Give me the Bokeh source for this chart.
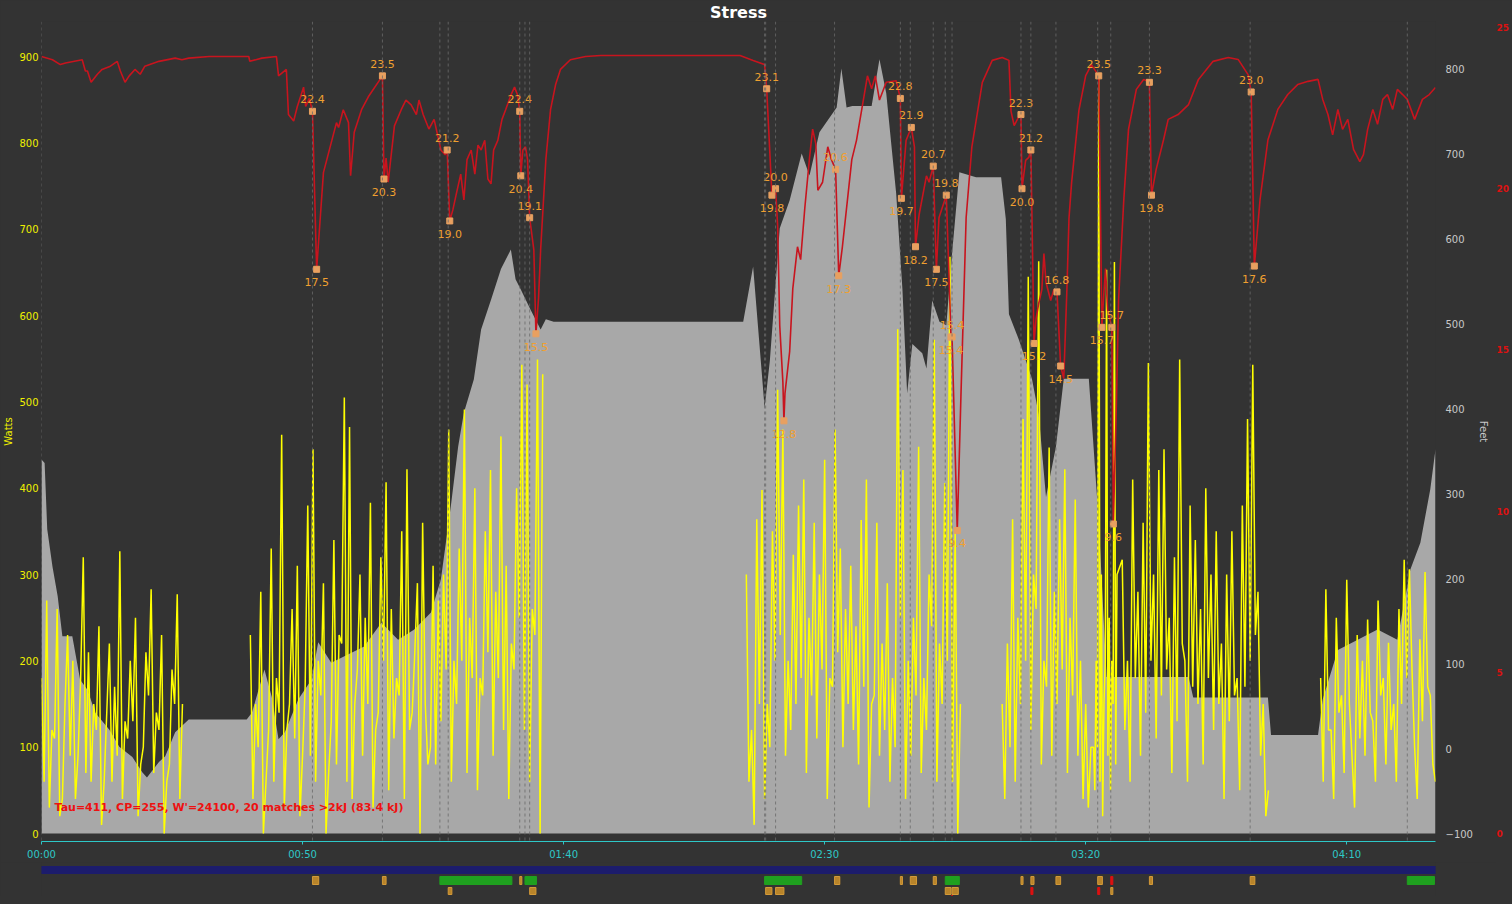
import math
from bokeh.plotting import figure
from bokeh.models import Range1d, LinearAxis, FixedTicker, Label, Span
from bokeh.layouts import column
from bokeh.embed import file_html
from bokeh.resources import INLINE
from bokeh.core.properties import value

# ------------------------------------------------------------------ data
x_ticks_min = [0, 50, 100, 150, 200, 250]
x_tick_labels = ["00:00", "00:50", "01:40", "02:30", "03:20", "04:10"]
watts_ticks = [0, 100, 200, 300, 400, 500, 600, 700, 800, 900]
feet_ticks = [-100, 0, 100, 200, 300, 400, 500, 600, 700, 800]
kj_ticks = [0, 5, 10, 15, 20, 25]
ride_minutes = 267.0

# altitude profile (minutes, feet)
altitude_points = [
    (0, 340), (0.6, 336), (1.1, 258), (2.1, 214), (3.1, 179), (4.0, 132), (5.9, 132), (7.4, 81),
    (8.8, 69), (10.3, 42), (13.0, 22), (14.9, 2), (17.4, -10), (19.3, -28), (20.2, -34), (22.5, -16),
    (23.7, -9), (25.6, 19), (28.2, 34), (39.3, 34), (40.3, 42), (42.7, 93), (44.1, 61), (45.4, 11),
    (46.6, 19), (49.2, 58), (51.7, 81), (53.0, 125), (55.5, 101), (61.8, 120), (65.1, 148), (68.3, 128),
    (71.4, 140), (74.6, 160), (76.5, 199), (78.4, 285), (79.8, 355), (80.9, 395), (82.8, 434), (84.2, 493),
    (86.1, 528), (88.0, 564), (88.9, 575), (89.9, 587), (90.8, 552), (91.8, 540), (93.7, 516), (95.6, 493),
    (96.6, 505), (98.1, 502), (134.4, 502), (136.3, 567), (138.5, 401), (139.5, 456), (141.4, 612), (143.3, 645),
    (145.6, 700), (147.1, 674), (149.0, 725), (152.3, 754), (153.2, 800), (154.2, 754), (155.3, 756), (159.0, 756),
    (160.5, 811), (161.8, 771), (163.7, 653), (164.9, 540), (165.8, 418), (166.8, 476), (168.7, 465), (169.5, 447),
    (170.6, 527), (172.0, 502), (173.3, 498), (174.4, 582), (175.8, 678), (179.0, 672), (183.8, 672), (184.7, 623),
    (185.3, 511), (187.2, 481), (189.7, 435), (191.0, 393), (192.4, 296), (194.3, 355), (195.8, 435), (200.6, 435),
    (202.5, 267), (204.0, 84), (219.7, 84), (220.6, 60), (234.9, 60), (235.5, 16), (244.5, 16), (245.4, 58),
    (248.3, 116), (252.1, 128), (255.9, 140), (259.7, 128), (262.2, 211), (264.1, 242), (266.0, 305), (267.0, 352),
]

# W' balance (minutes, kJ)
wbal_points = [
    (0, 24.1), (2.1, 24.0), (3.6, 23.85), (4.6, 23.9), (7.8, 24.0), (8.4, 23.65), (8.8, 23.65), (9.5, 23.3),
    (10.7, 23.55), (11.6, 23.7), (13.2, 23.8), (14.5, 23.95), (15.1, 23.65), (16.0, 23.3), (16.8, 23.5),
    (17.9, 23.7), (18.9, 23.55), (19.8, 23.8), (22.5, 23.95), (25.6, 24.05), (26.9, 24.0), (28.2, 24.05),
    (32.1, 24.1), (39.7, 24.1), (39.9, 23.95), (42.2, 24.05), (45.0, 24.1), (45.4, 23.5), (46.9, 23.7),
    (47.3, 22.3), (48.3, 22.1), (49.0, 22.55), (50.2, 23.15), (50.6, 22.55), (51.3, 22.8), (51.9, 22.4),
    (52.7, 17.5), (54.0, 20.5), (56.5, 22.05), (56.9, 21.9), (57.8, 22.45), (58.8, 22.05), (59.2, 20.4),
    (59.9, 21.75), (61.3, 22.45), (62.6, 22.85), (65.3, 23.5), (65.6, 20.3), (66.0, 20.95), (66.4, 20.2),
    (67.6, 21.95), (68.9, 22.45), (69.8, 22.75), (70.8, 22.6), (71.8, 22.3), (72.3, 22.75), (73.1, 22.3),
    (74.2, 21.85), (75.2, 22.15), (76.5, 21.2), (77.3, 21.05), (77.7, 21.2), (78.2, 19.0), (78.8, 19.35),
    (79.4, 19.8), (80.3, 20.45), (80.9, 19.65), (81.5, 20.9), (82.3, 21.2), (83.0, 20.45), (83.6, 21.35),
    (84.2, 21.2), (84.9, 21.5), (85.5, 20.3), (86.1, 20.15), (86.6, 21.2), (87.4, 21.5), (88.2, 22.15),
    (88.9, 22.45), (89.9, 22.9), (90.6, 23.15), (91.2, 22.9), (91.6, 22.4), (91.8, 20.4), (92.2, 21.2),
    (92.7, 21.3), (93.1, 20.9), (93.5, 19.1), (94.3, 18.1), (94.7, 15.5), (95.2, 16.6), (95.6, 18.1),
    (96.6, 20.9), (97.5, 22.45), (98.5, 23.25), (99.4, 23.7), (101.3, 24.0), (104.2, 24.1), (107.1, 24.13),
    (133.8, 24.13), (136.3, 23.98), (138.5, 23.85), (138.9, 23.1), (139.9, 19.8), (140.6, 20.0), (141.0, 18.85),
    (141.4, 15.75), (142.0, 14.0), (142.2, 12.8), (142.4, 13.65), (143.3, 14.95), (143.9, 16.9), (144.8, 18.2),
    (145.4, 17.8), (146.2, 19.4), (147.1, 20.95), (147.7, 21.85), (148.3, 21.4), (148.7, 19.95), (149.6, 20.2),
    (150.6, 21.3), (151.3, 20.9), (152.1, 20.6), (152.7, 17.3), (153.4, 18.2), (155.2, 20.9), (156.1, 21.5),
    (158.2, 23.5), (159.0, 23.1), (159.7, 23.5), (160.5, 22.75), (161.8, 23.3), (163.7, 23.35), (164.5, 22.8),
    (164.7, 19.7), (165.6, 21.5), (166.6, 21.9), (167.2, 21.3), (167.4, 18.2), (168.1, 19.2), (169.5, 20.4),
    (170.0, 20.2), (170.8, 20.7), (171.4, 17.5), (171.9, 19.1), (173.3, 19.8), (173.9, 16.9), (174.2, 15.4),
    (174.4, 15.4), (175.4, 9.4), (176.1, 13.55), (177.1, 19.1), (178.2, 21.3), (180.2, 23.3), (182.1, 23.98),
    (184.0, 24.07), (185.3, 23.98), (185.7, 22.4), (186.3, 21.96), (187.2, 22.24), (187.6, 22.3), (187.8, 20.0),
    (188.5, 20.88), (189.1, 20.97), (189.5, 21.2), (190.1, 15.2), (190.5, 15.97), (191.0, 16.44), (191.6, 16.87),
    (192.0, 17.99), (192.4, 17.09), (193.3, 16.53), (193.9, 16.87), (194.5, 16.8), (195.2, 14.5), (195.8, 14.11),
    (196.4, 16.87), (196.8, 19.08), (197.3, 20.19), (198.7, 22.43), (200.0, 23.51), (201.1, 23.85), (202.5, 23.5),
    (203.1, 15.7), (203.4, 16.56), (203.8, 17.52), (204.2, 16.25), (205.0, 15.7), (205.3, 9.6), (205.9, 13.46),
    (206.3, 16.56), (207.3, 19.67), (208.2, 21.84), (209.7, 23.08), (211.1, 23.39), (212.2, 23.3), (212.6, 19.8),
    (213.5, 20.6), (214.9, 21.51), (215.8, 22.15), (217.7, 22.3), (219.7, 22.61), (221.6, 23.39), (224.4, 23.95),
    (227.3, 24.07), (229.2, 24.01), (231.1, 23.54), (231.7, 23.0), (232.3, 17.6), (233.4, 19.67), (234.9, 21.51),
    (236.8, 22.46), (238.7, 22.92), (240.6, 23.23), (242.6, 23.33), (244.5, 23.39), (245.4, 22.77), (246.4, 22.3),
    (247.3, 21.67), (248.3, 22.46), (249.2, 21.84), (250.2, 22.15), (251.3, 21.22), (252.5, 20.84), (253.2, 21.06),
    (254.0, 21.84), (255.0, 22.46), (255.9, 22.0), (256.9, 22.77), (257.8, 22.92), (258.8, 22.46), (259.7, 23.08),
    (260.7, 22.92), (261.6, 22.77), (263.0, 22.15), (264.5, 22.77), (265.8, 22.92), (267.0, 23.14),
]

# matches (start / end of each W' expenditure > 2 kJ)
match_start_t = [51.9, 65.3, 77.7, 91.6, 93.5, 138.9, 140.6, 152.1, 164.5, 166.6,
                 170.8, 173.3, 174.4, 187.6, 189.5, 194.5, 202.5, 205.0, 212.2, 231.7]
match_start_kj = [22.4, 23.5, 21.2, 22.4, 19.1, 23.1, 20.0, 20.6, 22.8, 21.9,
                  20.7, 19.8, 15.4, 22.3, 21.2, 16.8, 23.5, 15.7, 23.3, 23.0]
match_end_t = [52.7, 65.6, 78.2, 91.8, 94.7, 139.9, 142.2, 152.7, 164.7, 167.4,
               171.4, 174.2, 175.4, 187.8, 190.1, 195.2, 203.1, 205.3, 212.6, 232.3]
match_end_kj = [17.5, 20.3, 19.0, 20.4, 15.5, 19.8, 12.8, 17.3, 19.7, 18.2,
                17.5, 15.4, 9.4, 20.0, 15.2, 14.5, 15.7, 9.6, 19.8, 17.6]

# power (watts), per ride block: start minute, step, peak values, and the dips in between
power_block_1_start, power_block_1_step = 0, 1
power_block_1 = [180, 270, 120, 260, 40, 230, 200, 90, 320, 210, 150, 240, 60, 220, 170, 327,
                 130, 200, 250, 80, 210, 283, 140, 230, 60, 190, 277, 150]
power_block_1_dips = [60, 30, 110, 20, 150, 90, 40, 180, 70, 60, 120, 10, 140, 60, 90, 40,
                      110, 130, 20, 100, 160, 70, 120, 0, 80, 150, 40]
power_block_2_start, power_block_2_step = 40, 1
power_block_2 = [230, 150, 280, 60, 330, 180, 462, 120, 260, 310, 90, 380, 445, 200, 290, 70,
                 340, 230, 505, 471, 150, 300, 250, 383, 120, 320, 407, 260, 180, 350, 422, 140,
                 290, 360, 80, 310, 270, 300, 468, 200, 330, 491, 250, 400, 180, 350, 421, 280,
                 460, 310, 220, 400, 543, 520, 260, 549, 532]
power_block_2_dips = [40, 100, 0, 120, 60, 140, 30, 150, 110, 20, 170, 90, 60, 160, 0, 130,
                      80, 220, 60, 40, 190, 90, 150, 30, 140, 200, 50, 110, 160, 40, 120, 210,
                      0, 150, 100, 80, 130, 190, 60, 150, 200, 70, 180, 50, 160, 210, 90, 180,
                      120, 40, 190, 250, 120, 60, 230, 0]
power_block_3_start, power_block_3_step = 135, 1
power_block_3 = [300, 120, 364, 398, 150, 350, 514, 468, 200, 323, 380, 410, 250, 360, 300, 433,
                 180, 468, 330, 260, 310, 240, 363, 410, 150, 360, 220, 290, 180, 584, 421,
                 200, 250, 448, 180, 300, 572, 220, 406, 668, 350, 150]
power_block_3_dips = [60, 10, 150, 40, 100, 200, 230, 90, 120, 150, 180, 70, 160, 110, 190, 40,
                      170, 210, 100, 150, 120, 80, 170, 30, 160, 90, 120, 60, 100, 250, 40,
                      90, 160, 70, 120, 240, 60, 150, 200, 60, 0]
power_block_4_start, power_block_4_step = 184, 1
power_block_4 = [150, 220, 364, 250, 480, 645, 300, 663, 200, 447, 280, 364, 422, 250, 387, 200,
                 150, 100]
power_block_4_dips = [40, 100, 60, 150, 200, 120, 260, 80, 170, 90, 150, 190, 70, 160, 90, 40, 30]
power_block_5_start, power_block_5_step = 201.5, 0.5
power_block_5 = [100, 200, 880, 300, 150, 653, 250, 200, 662, 300]
power_block_5_dips = [50, 100, 60, 20, 200, 90, 50, 150, 80]
power_block_6_start, power_block_6_step = 207, 1
power_block_6 = [317, 200, 410, 280, 360, 545, 300, 421, 445, 250, 320, 549, 200, 380, 340, 260,
                 400, 300, 350, 220, 300, 350, 180, 380, 480, 543, 280, 150, 50]
power_block_6_dips = [120, 60, 180, 90, 140, 200, 110, 160, 190, 70, 130, 220, 60, 170, 150, 80,
                      180, 120, 150, 40, 130, 160, 50, 170, 200, 230, 90, 20]
power_block_7_start, power_block_7_step = 245, 1
power_block_7 = [180, 283, 120, 250, 160, 294, 90, 230, 200, 248, 130, 270, 180, 221, 150, 260,
                 317, 306, 100, 225, 303, 160, 60]
power_block_7_dips = [60, 120, 40, 140, 70, 150, 30, 110, 90, 140, 60, 160, 80, 120, 60, 150,
                      180, 190, 40, 130, 170, 80]

# interval bars under the chart (start, end minutes)
ride_bar_start = [0.0]
ride_bar_end = [267.0]
green_bar_start = [76.3, 92.6, 138.5, 173.1, 261.6]
green_bar_end = [90.1, 94.8, 145.6, 175.8, 266.8]
orange_row1_start = [51.9, 65.3, 91.6, 151.9, 164.5, 166.4, 170.8, 187.6, 189.5, 194.3, 202.3, 212.2, 231.5]
orange_row1_end = [53.1, 66.0, 92.0, 152.9, 164.9, 167.6, 171.4, 188.0, 190.1, 195.2, 203.2, 212.8, 232.4]
red_row1_start = [204.8]
red_row1_end = [205.2]
orange_row2_start = [77.9, 93.5, 138.7, 140.6, 173.1, 174.4, 204.8]
orange_row2_end = [78.6, 94.7, 139.9, 142.2, 174.2, 175.6, 205.2]
red_row2_start = [189.5, 202.3]
red_row2_end = [189.9, 202.7]
red_row3_start = [174.3]
red_row3_end = [174.5]

# ------------------------------------------------------------------ build series
alt_t = [a for a, _ in altitude_points]
alt_ft = [b for _, b in altitude_points]
wbal_t = [a for a, _ in wbal_points]
wbal_kj = [b for _, b in wbal_points]

power_t, power_w = [], []
blocks = [
    (power_block_1_start, power_block_1_step, power_block_1, power_block_1_dips, True),
    (power_block_2_start, power_block_2_step, power_block_2, power_block_2_dips, True),
    (power_block_3_start, power_block_3_step, power_block_3, power_block_3_dips, True),
    (power_block_4_start, power_block_4_step, power_block_4, power_block_4_dips, False),
    (power_block_5_start, power_block_5_step, power_block_5, power_block_5_dips, False),
    (power_block_6_start, power_block_6_step, power_block_6, power_block_6_dips, True),
    (power_block_7_start, power_block_7_step, power_block_7, power_block_7_dips, False),
]
for start, step, peaks, dips, gap_after in blocks:
    for i, v in enumerate(peaks):
        power_t.append(start + i * step)
        power_w.append(v)
        if i < len(dips) and i < len(peaks) - 1:
            power_t.append(start + (i + 0.5) * step)
            power_w.append(dips[i])
    if gap_after:
        power_t.append(power_t[-1] + 0.5)
        power_w.append(float("nan"))

# ------------------------------------------------------------------ styling / layout
BG = "#333333"
FONT = "DejaVu Sans"
YELLOW = "#ffff00"
CYAN = "#2ec8c8"
RED = "#c8141e"
ORANGE_TXT = "#f0a030"
FRAME_W = 1394
FRAME_H = 820
LEFT_B = 34
RIGHT_B = 68
PX_W = 0.8633      # pixels per watt
PX_FT = 0.85       # pixels per foot
PX_KJ = 32.24      # pixels per kJ
PAD = 8            # gap between zero lines and the time axis

w_lo = -PAD / PX_W
ft_lo = -100 - PAD / PX_FT
kj_lo = -PAD / PX_KJ

p = figure(frame_width=FRAME_W, frame_height=FRAME_H,
           x_range=Range1d(0, ride_minutes),
           y_range=Range1d(w_lo, w_lo + FRAME_H / PX_W),
           min_border_left=LEFT_B, min_border_right=RIGHT_B,
           min_border_top=0, min_border_bottom=0,
           toolbar_location=None, output_backend="svg",
           background_fill_color=BG, border_fill_color=BG,
           outline_line_color=None, title="Stress")
p.extra_y_ranges = {
    "feet": Range1d(ft_lo, ft_lo + FRAME_H / PX_FT),
    "kj": Range1d(kj_lo, kj_lo + FRAME_H / PX_KJ),
}
p.grid.visible = False
p.title.text_color = "white"
p.title.text_font = FONT
p.title.text_font_size = "16px"
p.title.text_font_style = "bold"
p.title.align = "center"
p.title.standoff = 0
p.title.offset = 18

# altitude
p.varea(x=alt_t, y1=[-100] * len(alt_t), y2=alt_ft, y_range_name="feet",
        fill_color="#a8a8a8", fill_alpha=1.0)

# interval start markers
interval_starts = sorted(set(ride_bar_start + green_bar_start + orange_row1_start +
                             orange_row2_start + red_row1_start + red_row2_start))
for t0 in interval_starts:
    p.add_layout(Span(location=t0, dimension="height", line_color="#6a6a6a",
                      line_width=1, line_dash="3 3", line_alpha=0.8))

# power
p.line(power_t, power_w, line_color=YELLOW, line_width=1.5)

# W' balance
p.line(wbal_t, wbal_kj, line_color=RED, line_width=1.6, y_range_name="kj")

# match markers and labels
p.scatter(match_start_t, match_start_kj, marker="square", size=6, fill_color="#e8a060",
          line_color="#e8a060", y_range_name="kj")
p.scatter(match_end_t, match_end_kj, marker="square", size=6, fill_color="#e8a060",
          line_color="#e8a060", y_range_name="kj")
p.text(match_start_t, match_start_kj, text=[f"{v:.1f}" for v in match_start_kj],
       y_range_name="kj", y_offset=-12, text_align="center", text_baseline="middle",
       text_color=ORANGE_TXT, text_font=value(FONT), text_font_size="11px")
p.text(match_end_t, match_end_kj, text=[f"{v:.1f}" for v in match_end_kj],
       y_range_name="kj", y_offset=13, text_align="center", text_baseline="middle",
       text_color=ORANGE_TXT, text_font=value(FONT), text_font_size="11px")

p.add_layout(Label(x=2.5, y=30, text="Tau=411, CP=255, W'=24100, 20 matches >2kJ (83.4 kJ)",
                   text_color="#ee1111", text_font=FONT, text_font_style="bold",
                   text_font_size="11px", text_baseline="middle"))

# axes
ya = p.yaxis[0]
ya.ticker = FixedTicker(ticks=watts_ticks)
ya.axis_label = "Watts"
ya.axis_label_text_color = "#f0f000"
ya.axis_label_text_font = FONT
ya.axis_label_text_font_size = "10px"
ya.axis_label_text_font_style = "normal"
ya.axis_label_standoff = 2
ya.major_label_text_color = "#f0f000"
ya.major_label_text_font = FONT
ya.major_label_text_font_size = "10px"
ya.major_label_standoff = 3
ya.axis_line_color = None
ya.major_tick_line_color = None
ya.major_tick_out = 0
ya.major_tick_in = 0
ya.minor_tick_line_color = None
ya.minor_tick_out = 0

feet_axis = LinearAxis(y_range_name="feet", ticker=FixedTicker(ticks=feet_ticks), axis_label="Feet")
feet_axis.axis_label_text_color = "#c8c8c8"
feet_axis.axis_label_text_font = FONT
feet_axis.axis_label_text_font_size = "10px"
feet_axis.axis_label_text_font_style = "normal"
feet_axis.axis_label_standoff = 2
feet_axis.major_label_text_color = "#c8c8c8"
feet_axis.major_label_text_font = FONT
feet_axis.major_label_text_font_size = "10px"
feet_axis.major_label_standoff = 10
feet_axis.axis_line_color = None
feet_axis.major_tick_line_color = None
feet_axis.major_tick_out = 0
feet_axis.major_tick_in = 0
feet_axis.minor_tick_line_color = None
feet_axis.minor_tick_out = 0
p.add_layout(feet_axis, "right")

kj_axis = LinearAxis(y_range_name="kj", ticker=FixedTicker(ticks=kj_ticks))
kj_axis.major_label_text_color = "#dd1111"
kj_axis.major_label_text_font = FONT
kj_axis.major_label_text_font_size = "9px"
kj_axis.major_label_text_font_style = "bold"
kj_axis.major_label_standoff = 5
kj_axis.axis_line_color = None
kj_axis.major_tick_line_color = None
kj_axis.major_tick_out = 0
kj_axis.major_tick_in = 0
kj_axis.minor_tick_line_color = None
kj_axis.minor_tick_out = 0
p.add_layout(kj_axis, "right")

xa = p.xaxis[0]
xa.ticker = FixedTicker(ticks=x_ticks_min)
xa.major_label_overrides = {t: s for t, s in zip(x_ticks_min, x_tick_labels)}
xa.axis_line_color = CYAN
xa.axis_line_width = 1
xa.major_tick_line_color = CYAN
xa.major_tick_out = 3
xa.major_tick_in = 0
xa.minor_tick_line_color = None
xa.minor_tick_out = 0
xa.major_label_text_color = CYAN
xa.major_label_text_font = FONT
xa.major_label_text_font_size = "10px"
xa.major_label_standoff = 4

# ------------------------------------------------------------------ interval bars
BAR_H = 34
b = figure(frame_width=FRAME_W, frame_height=BAR_H, x_range=p.x_range,
           y_range=Range1d(BAR_H, 0),
           min_border_left=LEFT_B, min_border_right=RIGHT_B,
           min_border_top=0, min_border_bottom=0,
           x_axis_location=None, y_axis_location=None,
           toolbar_location=None, output_backend="svg",
           background_fill_color=BG, border_fill_color=BG, outline_line_color=None)
b.grid.visible = False

ROW0, ROW1, ROW2, ROW3 = (4, 11), (14, 22), (25, 32), (33, 40)


def bars(starts, ends, row, fill, line=None):
    b.quad(left=starts, right=ends, top=[row[0]] * len(starts), bottom=[row[1]] * len(starts),
           fill_color=fill, line_color=line if line else fill, line_width=1)


bars(ride_bar_start, ride_bar_end, ROW0, "#1c1c6c")
bars(green_bar_start, green_bar_end, ROW1, "#1fa01f")
bars(orange_row1_start, orange_row1_end, ROW1, "#b8842a", "#d49a38")
bars(red_row1_start, red_row1_end, ROW1, "#dd1111")
bars(orange_row2_start, orange_row2_end, ROW2, "#b8842a", "#d49a38")
bars(red_row2_start, red_row2_end, ROW2, "#dd1111")
bars(red_row3_start, red_row3_end, ROW3, "#dd1111")

layout = column(p, b, spacing=0, styles={"background-color": BG})
html = file_html(layout, INLINE, title="Stress")
html = html.replace("<head>", "<head><style>html, body { background: #333333; }</style>", 1)
open("out.html", "w").write(html)
